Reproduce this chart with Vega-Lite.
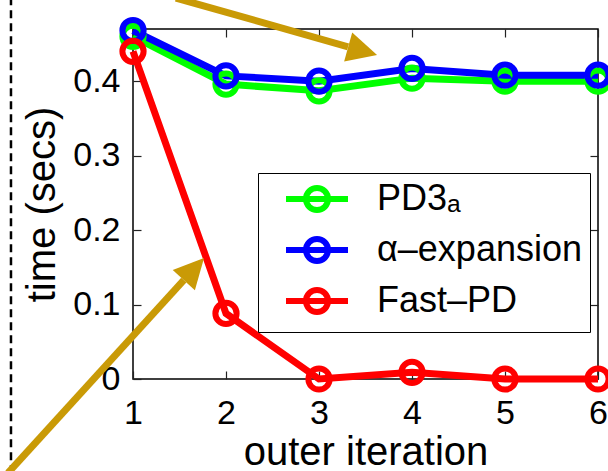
{
  "$schema": "https://vega.github.io/schema/vega-lite/v6.json",
  "width": 465,
  "height": 350,
  "autosize": {"type": "none"},
  "padding": {"left": 133, "top": 29, "right": 10, "bottom": 92},
  "background": "white",
  "config": {
    "font": "Liberation Sans",
    "view": {"stroke": "black", "strokeWidth": 1.5},
    "axis": {
      "grid": false,
      "domainColor": "black",
      "domainWidth": 1.5,
      "tickColor": "#222",
      "tickWidth": 1.2,
      "labelColor": "black",
      "titleColor": "black",
      "labelFont": "Liberation Sans",
      "titleFont": "Liberation Sans",
      "titleFontWeight": "normal",
      "labelFlush": false,
      "labelOverlap": false
    }
  },
  "datasets": {
    "series": [
      {"iter": 1, "time": 0.46, "method": "PD3a"},
      {"iter": 2, "time": 0.396, "method": "PD3a"},
      {"iter": 3, "time": 0.387, "method": "PD3a"},
      {"iter": 4, "time": 0.404, "method": "PD3a"},
      {"iter": 5, "time": 0.4, "method": "PD3a"},
      {"iter": 6, "time": 0.4, "method": "PD3a"},
      {"iter": 1, "time": 0.468, "method": "α–expansion"},
      {"iter": 2, "time": 0.407, "method": "α–expansion"},
      {"iter": 3, "time": 0.4, "method": "α–expansion"},
      {"iter": 4, "time": 0.417, "method": "α–expansion"},
      {"iter": 5, "time": 0.408, "method": "α–expansion"},
      {"iter": 6, "time": 0.408, "method": "α–expansion"},
      {"iter": 1, "time": 0.44, "method": "Fast–PD"},
      {"iter": 2, "time": 0.088, "method": "Fast–PD"},
      {"iter": 3, "time": 0.0, "method": "Fast–PD"},
      {"iter": 4, "time": 0.009, "method": "Fast–PD"},
      {"iter": 5, "time": 0.0, "method": "Fast–PD"},
      {"iter": 6, "time": 0.0, "method": "Fast–PD"}
    ],
    "arrows": [
      {"x": 1.462, "y": 0.5116, "x2": 3.313, "y2": 0.446},
      {"x": -0.344, "y": -0.1262, "x2": 1.546, "y2": 0.1327}
    ],
    "heads": [
      {"x": 3.469, "y": 0.4405, "angle": 105.6},
      {"x": 1.655, "y": 0.1476, "angle": 42.4}
    ],
    "border": [
      {"x": -0.312, "y": 0.53, "y2": -0.14}
    ]
  },
  "resolve": {"axis": {"x": "independent", "y": "independent"}},
  "layer": [
    {
      "data": {"name": "series"},
      "mark": {
        "type": "line",
        "strokeWidth": 7,
        "clip": false,
        "point": {"filled": false, "size": 450, "strokeWidth": 6, "clip": false}
      },
      "encoding": {
        "x": {
          "field": "iter",
          "type": "quantitative",
          "scale": {"domain": [1, 6], "nice": false},
          "axis": {
            "orient": "bottom",
            "values": [1, 2, 3, 4, 5, 6],
            "format": "d",
            "labelFontSize": 34,
            "tickSize": -8,
            "labelPadding": 25,
            "title": "outer iteration",
            "titleFontSize": 40,
            "titlePadding": 2,
            "domain": false
          }
        },
        "y": {
          "field": "time",
          "type": "quantitative",
          "scale": {"domain": [0, 0.47], "nice": false, "zero": false},
          "axis": {
            "orient": "left",
            "values": [0, 0.1, 0.2, 0.3, 0.4],
            "labelExpr": "datum.value === 0 ? '0' : format(datum.value, '.1f')",
            "labelFontSize": 34,
            "tickSize": -8,
            "labelPadding": 21,
            "title": "time (secs)",
            "titleFontSize": 40,
            "titlePadding": 10,
            "domain": false
          }
        },
        "color": {
          "field": "method",
          "type": "nominal",
          "sort": ["PD3a", "α–expansion", "Fast–PD"],
          "scale": {
            "domain": ["PD3a", "α–expansion", "Fast–PD"],
            "range": ["#00ff00", "#0000ff", "#ff0000"]
          },
          "legend": {
            "title": null,
            "orient": "none",
            "legendX": 125,
            "legendY": 144,
            "labelExpr": "datum.label === 'PD3a' ? 'PD3ₐ' : datum.label",
            "labelFontSize": 36,
            "labelFont": "Liberation Sans",
            "labelColor": "black",
            "labelLimit": 500,
            "labelOffset": 75,
            "symbolType": "M0.2,0H6.4M2.2,0A1.1,1.1 0 1,0 4.4,0A1.1,1.1 0 1,0 2.2,0",
            "symbolSize": 400,
            "symbolStrokeWidth": 6,
            "symbolFillColor": "transparent",
            "rowPadding": 5,
            "padding": 8,
            "strokeColor": "black",
            "fillColor": "white"
          }
        }
      }
    },
    {
      "data": {"name": "border"},
      "mark": {"type": "rule", "strokeDash": [8, 5], "strokeWidth": 2.5, "color": "black", "clip": false},
      "encoding": {
        "x": {
          "field": "x",
          "type": "quantitative",
          "scale": {"domain": [1, 6], "nice": false},
          "axis": {"orient": "top", "values": [1, 2, 3, 4, 5, 6], "labels": false, "tickSize": -8, "domain": false, "title": null}
        },
        "y": {
          "field": "y",
          "type": "quantitative",
          "scale": {"domain": [0, 0.47], "nice": false, "zero": false},
          "axis": {"orient": "right", "values": [0, 0.1, 0.2, 0.3, 0.4], "labels": false, "tickSize": -8, "domain": false, "title": null}
        },
        "y2": {"field": "y2"}
      }
    },
    {
      "data": {"name": "arrows"},
      "mark": {"type": "rule", "strokeWidth": 7, "color": "#c99a06", "clip": false},
      "encoding": {
        "x": {"field": "x", "type": "quantitative", "scale": {"domain": [1, 6], "nice": false}, "axis": null},
        "y": {"field": "y", "type": "quantitative", "scale": {"domain": [0, 0.47], "nice": false, "zero": false}, "axis": null},
        "x2": {"field": "x2"},
        "y2": {"field": "y2"}
      }
    },
    {
      "data": {"name": "heads"},
      "mark": {"type": "point", "shape": "M0,-1L1,1L-1,1Z", "filled": true, "size": 900, "color": "#c99a06", "opacity": 1, "clip": false},
      "encoding": {
        "x": {"field": "x", "type": "quantitative", "scale": {"domain": [1, 6], "nice": false}, "axis": null},
        "y": {"field": "y", "type": "quantitative", "scale": {"domain": [0, 0.47], "nice": false, "zero": false}, "axis": null},
        "angle": {"field": "angle", "type": "quantitative", "scale": null}
      }
    }
  ]
}
